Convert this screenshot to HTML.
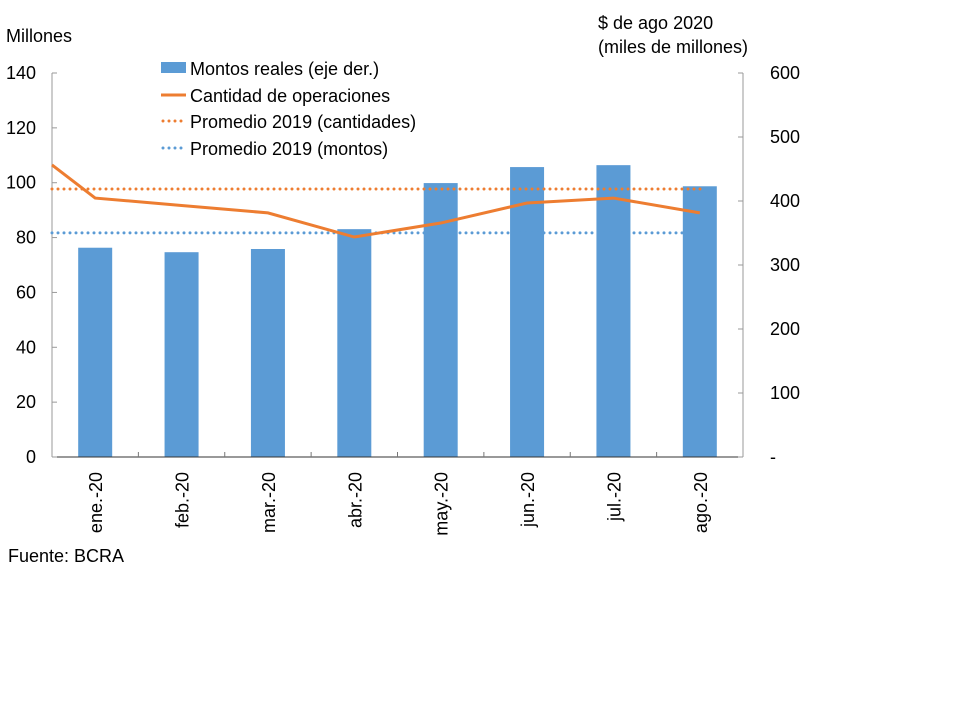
<!DOCTYPE html>
<html><head><meta charset="utf-8"><style>
body{margin:0;background:#fff;font-family:"Liberation Sans",sans-serif}
svg text{font-family:"Liberation Sans",sans-serif;fill:#000}
</style></head><body>
<svg id="c" width="960" height="720" xmlns="http://www.w3.org/2000/svg"></svg>
<script>
const categories=["ene.-20","feb.-20","mar.-20","abr.-20","may.-20","jun.-20","jul.-20","ago.-20"];
const montos=[327,320,325,356,428,453,456,423];
const cantidad=[94.4,91.7,89,80.2,85.3,92.6,94.4,89];
const cantidadStart=[106.5];
const prom2019Cant=[97.7];
const prom2019Montos=[81.7];
const leftTicks=["0","20","40","60","80","100","120","140"];
const rightTicks=["-","100","200","300","400","500","600"];
const L=52,R=743,T=73,B=457;
const yL=v=>B-(v/140)*(B-T);
const yR=v=>B-(v/600)*(B-T);
const bw=(R-L)/categories.length;
const xC=i=>L+bw*(i+0.5);
const svg=document.getElementById('c');
const NS="http://www.w3.org/2000/svg";
function el(t,a,txt){const e=document.createElementNS(NS,t);for(const k in a)e.setAttribute(k,a[k]);if(txt!==undefined)e.textContent=txt;svg.appendChild(e);return e;}
montos.forEach((v,i)=>{const r=el('rect',{x:xC(i)-17,y:yR(v),width:34,height:B-yR(v),fill:'#5b9bd5'});

});
let a=el('line',{x1:L,y1:T,x2:L,y2:B,stroke:'#999','stroke-width':1});

a=el('line',{x1:R,y1:T,x2:R,y2:B,stroke:'#999','stroke-width':1});

a=el('line',{x1:L,y1:B,x2:R,y2:B,stroke:'#333','stroke-width':1});

leftTicks.forEach((t,i)=>{const y=yL(i*20);el('line',{x1:L,y1:y,x2:L+5,y2:y,stroke:'#999'});
const tx=el('text',{x:36,y:y+6,'text-anchor':'end','font-size':18},t);
});
rightTicks.forEach((t,i)=>{const y=yR(i*100);el('line',{x1:R-5,y1:y,x2:R,y2:y,stroke:'#999'});
const tx=el('text',{x:770,y:y+6,'font-size':18},t);
});
categories.forEach((c,i)=>{const x=L+bw*i;if(i>0)el('line',{x1:x,y1:B,x2:x,y2:B-5,stroke:'#777'});
const tx=el('text',{transform:`translate(${xC(i)+7},472) rotate(-90)`,'text-anchor':'end','font-size':18},c);
});
let d=el('line',{x1:L,y1:yL(prom2019Cant[0]),x2:706,y2:yL(prom2019Cant[0]),stroke:'#ed7d31','stroke-width':3,'stroke-dasharray':'0 6','stroke-linecap':'round'});

d=el('line',{x1:L,y1:yL(prom2019Montos[0]),x2:686,y2:yL(prom2019Montos[0]),stroke:'#5b9bd5','stroke-width':3,'stroke-dasharray':'0 6','stroke-linecap':'round'});

const pts=[[L,yL(cantidadStart[0])]].concat(cantidad.map((v,i)=>[xC(i),yL(v)]));
const pl=el('polyline',{points:pts.map(p=>p.join(',')).join(' '),fill:'none',stroke:'#ed7d31','stroke-width':3});

let t=el('text',{x:6,y:42,'font-size':18},'Millones');
t=el('text',{x:598,y:29,'font-size':18},'$ de ago 2020');
t=el('text',{x:598,y:53,'font-size':18},'(miles de millones)');
t=el('text',{x:8,y:562,'font-size':18},'Fuente: BCRA');
const leg=[['bar','Montos reales (eje der.)',77],['line','Cantidad de operaciones',104],['dotO','Promedio 2019 (cantidades)',130],['dotB','Promedio 2019 (montos)',157]];
leg.forEach(([k,lab,y])=>{
if(k==='bar')el('rect',{x:161,y:y-15,width:25,height:11,fill:'#5b9bd5'});
else if(k==='line')el('line',{x1:161,y1:y-9,x2:186,y2:y-9,stroke:'#ed7d31','stroke-width':3});
else el('line',{x1:163,y1:y-9,x2:186,y2:y-9,stroke:k==='dotO'?'#ed7d31':'#5b9bd5','stroke-width':3,'stroke-dasharray':'0 6','stroke-linecap':'round'});
const tx=el('text',{x:190,y:y-2,'font-size':18},lab);
});
</script></body></html>
